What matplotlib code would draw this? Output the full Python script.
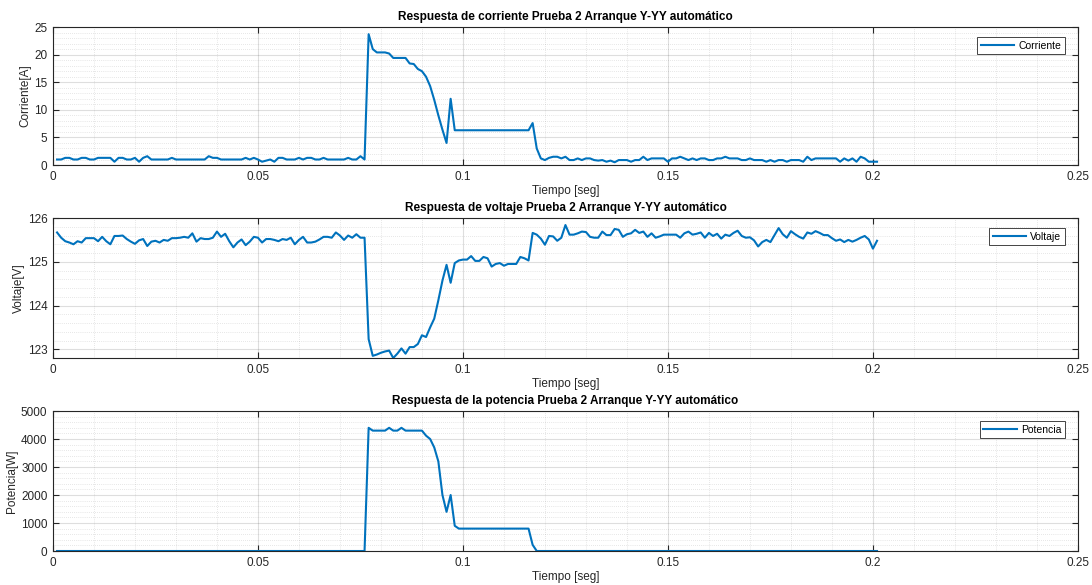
import numpy as np
import matplotlib
matplotlib.use("Agg")
import matplotlib.pyplot as plt
from matplotlib.ticker import MultipleLocator

plt.rcParams['font.family'] = ['Liberation Sans', 'DejaVu Sans']

# sample index -> time in seconds (1 kHz sampling, 201 samples)
dt = 0.001
n_samples = 201

corriente = [
    1.0, 1.0, 1.3, 1.3, 1.0, 1.0, 1.3, 1.3, 1.0, 1.0,
    1.3, 1.3, 1.3, 1.3, 0.6, 1.3, 1.3, 1.0, 1.0, 1.3,
    0.6, 1.3, 1.6, 1.0, 1.0, 1.0, 1.0, 1.0, 1.3, 1.0,
    1.0, 1.0, 1.0, 1.0, 1.0, 1.0, 1.0, 1.6, 1.3, 1.3,
    1.0, 1.0, 1.0, 1.0, 1.0, 1.0, 1.3, 1.0, 1.3, 1.0,
    0.6, 0.8, 1.0, 0.6, 1.3, 1.3, 1.0, 1.0, 1.0, 1.3,
    1.0, 1.3, 1.3, 1.0, 1.0, 1.3, 1.0, 1.0, 1.0, 1.0,
    1.0, 1.3, 1.0, 1.0, 1.6, 1.0,
    23.7, 21.0, 20.4, 20.4, 20.4, 20.2, 19.4, 19.4, 19.4, 19.4,
    18.4, 18.3, 17.4, 17.0, 16.0, 14.3, 11.8, 9.0, 6.4, 4.0,
    12.0, 6.3,
] + [6.3] * 18 + [
    7.6,
    3.0, 1.2, 0.9, 1.3, 1.5, 1.5, 1.2, 1.5, 0.9, 0.9,
    1.2, 0.9, 1.2, 1.2, 0.9, 0.8, 0.9, 0.6, 0.8, 0.5,
    0.9, 0.9, 0.9, 0.6, 0.9, 0.9, 1.5, 0.9, 1.2, 1.2,
    1.2, 1.2, 0.6, 1.2, 1.2, 1.5, 1.2, 0.9, 1.2, 0.9,
    1.2, 1.2, 0.9, 0.9, 1.2, 1.2, 1.5, 1.2, 1.2, 1.2,
    0.9, 0.9, 1.2, 0.9, 0.9, 0.9, 0.6, 0.9, 0.6, 0.9,
    0.9, 0.6, 0.9, 0.9, 0.9, 0.6, 1.5, 0.9, 1.2, 1.2,
    1.2, 1.2, 1.2, 1.2, 0.6, 1.2, 0.8, 1.2, 0.6, 1.5,
    1.2, 0.6, 0.6, 0.6,
]

voltaje = [
    125.67, 125.55, 125.47, 125.44, 125.40, 125.47, 125.44, 125.54, 125.54, 125.54,
    125.47, 125.57, 125.47, 125.40, 125.59, 125.59, 125.60, 125.52, 125.46, 125.41,
    125.49, 125.52, 125.36, 125.46, 125.48, 125.44, 125.50, 125.48, 125.54, 125.54,
    125.55, 125.57, 125.55, 125.65, 125.46, 125.54, 125.52, 125.52, 125.55, 125.69,
    125.57, 125.64, 125.47, 125.33, 125.44, 125.51, 125.38, 125.46, 125.57, 125.55,
    125.44, 125.52, 125.52, 125.50, 125.47, 125.52, 125.50, 125.55, 125.40, 125.50,
    125.57, 125.44, 125.44, 125.46, 125.51, 125.57, 125.57, 125.55, 125.67, 125.60,
    125.50, 125.60, 125.55, 125.63, 125.55, 125.55,
    123.23, 122.85, 122.88, 122.92, 122.95, 122.97, 122.80, 122.90, 123.02, 122.90,
    123.05, 123.05, 123.12, 123.32, 123.28, 123.50, 123.70, 124.12, 124.57, 124.93,
    124.52, 124.97, 125.03,
    125.05, 125.05, 125.13, 125.02, 125.02, 125.11, 125.08, 124.89, 124.95, 124.97,
    124.91, 124.95, 124.95, 124.95, 125.11, 125.08, 125.03,
    125.66, 125.62, 125.53, 125.39, 125.59, 125.58, 125.48, 125.55, 125.84, 125.62,
    125.62, 125.65, 125.69, 125.68, 125.57, 125.55, 125.55, 125.69, 125.61, 125.61,
    125.75, 125.73, 125.57, 125.63, 125.65, 125.73, 125.66, 125.69, 125.57, 125.65,
    125.55, 125.58, 125.62, 125.62, 125.62, 125.62, 125.55, 125.65, 125.69, 125.62,
    125.64, 125.67, 125.55, 125.66, 125.59, 125.64, 125.53, 125.62, 125.59, 125.66,
    125.71, 125.59, 125.55, 125.56, 125.49, 125.35, 125.45, 125.50, 125.45, 125.61,
    125.77, 125.63, 125.55, 125.70, 125.63, 125.57, 125.53, 125.67, 125.64, 125.70,
    125.66, 125.61, 125.61, 125.54, 125.48, 125.51, 125.45, 125.50, 125.46, 125.50,
    125.55, 125.59, 125.51, 125.30, 125.48,
]

potencia = [0.0] * 76 + [
    4400, 4300, 4300, 4300, 4300, 4400, 4300, 4300, 4400, 4300,
    4300, 4300, 4300, 4300, 4120, 4000, 3700, 3200, 2000, 1400,
    2000, 900,
] + [800] * 18 + [220] + [0.0] * 84

t = np.arange(1, n_samples + 1) * dt

series = [
    (corriente, 'Corriente', 'Corriente[A]',
     'Respuesta de corriente Prueba 2 Arranque Y-YY automático',
     (0, 25), np.arange(0, 26, 5), 1),
    (voltaje, 'Voltaje', 'Voltaje[V]',
     'Respuesta de voltaje Prueba 2 Arranque Y-YY automático',
     (122.8, 126), [123, 124, 125, 126], 0.2),
    (potencia, 'Potencia', 'Potencia[W]',
     'Respuesta de la potencia Prueba 2 Arranque Y-YY automático',
     (0, 5000), np.arange(0, 5001, 1000), 200),
]

fig = plt.figure(figsize=(10.92, 5.85), dpi=100)
axes_pos = [
    [0.0485, 0.7179, 0.9386, 0.2359],
    [0.0485, 0.3880, 0.9386, 0.2393],
    [0.0485, 0.0581, 0.9386, 0.2393],
]

dark = '#262626'
for pos, (y, name, ylab, title, ylim, yt, yminor) in zip(axes_pos, series):
    ax = fig.add_axes(pos)
    ax.plot(t, y, color='#0072BD', lw=1.5, label=name)
    ax.set_xlim(0, 0.25)
    ax.set_ylim(*ylim)
    ax.set_xticks([0, 0.05, 0.1, 0.15, 0.2, 0.25])
    ax.set_xticklabels(['0', '0.05', '0.1', '0.15', '0.2', '0.25'])
    ax.set_yticks(yt)
    ax.xaxis.set_minor_locator(MultipleLocator(0.01))
    ax.yaxis.set_minor_locator(MultipleLocator(yminor))
    ax.grid(True, which='major', color='#262626', alpha=0.15, lw=0.8)
    ax.grid(True, which='minor', color='#262626', alpha=0.22, lw=0.5, ls=(0, (1, 2)))
    ax.set_axisbelow(True)
    ax.tick_params(which='major', direction='in', length=4, top=True, right=True,
                   labelsize=8.5, colors=dark, width=0.8, pad=4)
    ax.tick_params(which='minor', length=0)
    for s in ax.spines.values():
        s.set_color(dark)
        s.set_linewidth(0.8)
    ax.set_title(title, fontsize=8.5, fontweight='bold', color='black', pad=5)
    ax.set_xlabel('Tiempo [seg]', fontsize=8.5, color=dark, labelpad=2)
    ax.set_ylabel(ylab, fontsize=8.5, color=dark, labelpad=2)
    leg = ax.legend(loc='upper right', fontsize=7.5, fancybox=False, framealpha=1,
                    edgecolor=dark, handlelength=3.2, handletextpad=0.4,
                    borderpad=0.35, bbox_to_anchor=(0.9925, 0.965))
    leg.get_frame().set_linewidth(0.6)

fig.savefig('out.png', dpi=100)
